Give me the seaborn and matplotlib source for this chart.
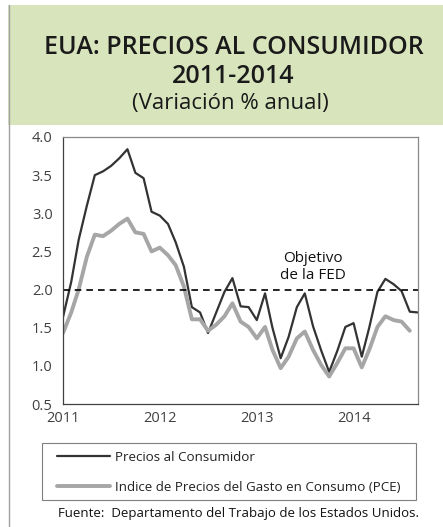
import matplotlib
matplotlib.use('Agg')
import matplotlib.pyplot as plt
from matplotlib.lines import Line2D
from matplotlib.patches import Rectangle
import pandas as pd
import seaborn as sns

# Datos mensuales (variacion % anual)
cpi = [1.64, 2.10, 2.65, 3.10, 3.50, 3.55, 3.62, 3.72, 3.84, 3.53, 3.46, 3.02,
       2.97, 2.86, 2.62, 2.30, 1.77, 1.70, 1.43, 1.70, 1.97, 2.15, 1.78, 1.77,
       1.60, 1.95, 1.50, 1.10, 1.38, 1.77, 1.95, 1.52, 1.20, 0.92, 1.20, 1.51,
       1.56, 1.12, 1.50, 1.97, 2.14, 2.07, 1.98, 1.71, 1.70]
pce = [1.43, 1.70, 2.00, 2.43, 2.72, 2.70, 2.77, 2.86, 2.93, 2.75, 2.73, 2.50,
       2.55, 2.45, 2.32, 2.04, 1.61, 1.61, 1.46, 1.54, 1.65, 1.82, 1.58, 1.51,
       1.36, 1.51, 1.21, 0.97, 1.12, 1.36, 1.45, 1.21, 1.01, 0.86, 1.04, 1.23,
       1.23, 0.98, 1.21, 1.51, 1.65, 1.60, 1.58, 1.46]
fechas_cpi = pd.date_range('2011-01-01', periods=len(cpi), freq='MS')
fechas_pce = pd.date_range('2011-01-01', periods=len(pce), freq='MS')
objetivo = 2.0
years = ['2011', '2012', '2013', '2014']

sns.set_style('white')
plt.rcParams['font.family'] = ['Open Sans', 'DejaVu Sans']

fig = plt.figure(figsize=(4.43, 5.27), dpi=100)

# Encabezado verde y borde izquierdo
fig.patches.append(Rectangle((8 / 443, 1 - 125 / 527), 435 / 443, 120 / 527,
                             transform=fig.transFigure, facecolor='#d8e4bc',
                             edgecolor='none', zorder=0))
fig.lines.append(Line2D([8.5 / 443, 8.5 / 443], [0, 1 - 5 / 527],
                        transform=fig.transFigure, color='#a0a0a0', lw=1))

fig.text(0.527, 1 - 47 / 527, 'EUA: PRECIOS AL CONSUMIDOR', ha='center', va='center',
         fontsize=18, fontweight='semibold', color='#1a1a1a')
fig.text(0.527, 1 - 76 / 527, '2011-2014', ha='center', va='center',
         fontsize=18, fontweight='semibold', color='#1a1a1a')
fig.text(0.52, 1 - 103 / 527, '(Variación % anual)', ha='center', va='center',
         fontsize=16, color='#1a1a1a')

ax = fig.add_axes([63 / 443, 1 - 404 / 527, 355 / 443, 267 / 527])

df_cpi = pd.DataFrame({'fecha': fechas_cpi, 'valor': cpi})
df_pce = pd.DataFrame({'fecha': fechas_pce, 'valor': pce})
sns.lineplot(data=df_cpi, x='fecha', y='valor', ax=ax, color='#333333', lw=1.6)
sns.lineplot(data=df_pce, x='fecha', y='valor', ax=ax, color='#a6a6a6', lw=2.8)
ax.axhline(objetivo, color='black', lw=1.2, ls=(0, (4, 3)))

ax.text(pd.Timestamp('2013-08-01'), 2.30, 'Objetivo\nde la FED', ha='center',
        va='center', fontsize=11, color='#111111', linespacing=1.15)

ax.set_xlim(pd.Timestamp('2011-01-01'), pd.Timestamp('2014-09-01'))
ax.set_ylim(0.5, 4.0)
ax.set_yticks([0.5, 1.0, 1.5, 2.0, 2.5, 3.0, 3.5, 4.0])
ax.set_yticklabels(['%.1f' % v for v in ax.get_yticks()])
ax.set_xticks([pd.Timestamp(y + '-01-01') for y in years])
ax.set_xticklabels(years)
ax.set_xlabel('')
ax.set_ylabel('')
ax.tick_params(axis='both', labelsize=10.5, labelcolor='#404040', colors='#404040',
               length=4, width=0.8, direction='out')
ax.tick_params(axis='x', pad=1)
for s in ['left', 'bottom']:
    ax.spines[s].set_color('#404040')
for s in ['top', 'right']:
    ax.spines[s].set_color('#888888')
for s in ax.spines.values():
    s.set_linewidth(0.9)

# Marco de la leyenda
fig.patches.append(Rectangle((42 / 443, 1 - 500 / 527), 374 / 443, 57 / 527,
                             transform=fig.transFigure, facecolor='white',
                             edgecolor='#7f7f7f', lw=0.8))
handles = [Line2D([], [], color='#333333', lw=1.6),
           Line2D([], [], color='#a6a6a6', lw=2.8)]
leg = fig.legend(handles, ['Precios al Consumidor',
                           'Indice de Precios del Gasto en Consumo (PCE)'],
                 loc='upper left', bbox_to_anchor=(57 / 443, 1 - 451 / 527),
                 frameon=False, fontsize=9.6, handlelength=4.0,
                 handletextpad=0.35, borderpad=0, labelspacing=1.25,
                 borderaxespad=0)
for t in leg.get_texts():
    t.set_color('#222222')

fig.text(419 / 443, 1 - 513 / 527,
         'Fuente:  Departamento del Trabajo de los Estados Unidos.',
         ha='right', va='center', fontsize=9.5, color='#111111')

fig.savefig('out.png', dpi=100)
